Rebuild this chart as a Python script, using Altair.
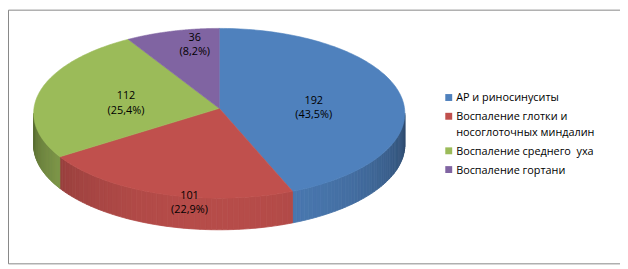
import altair as alt
import pandas as pd

categories = ["АР и риносинуситы", "Воспаление глотки и носоглоточных миндалин",
              "Воспаление среднего уха", "Воспаление гортани"]
legend_labels = ["АР и риносинуситы", "Воспаление глотки и\nносоглоточных миндалин",
                 "Воспаление среднего\u00a0 уха", "Воспаление гортани"]
values = [192, 101, 112, 36]
top_colors = ["#4F81BD", "#C0504D", "#9BBB59", "#8064A2"]

W, H = 620, 258
CX, CY, RX, RY, DEPTH, APEX_UP = 214, 105, 188, 86, 32, 5
N = 120      # arc resolution of the top face
M = 48       # shading strips per side wall
FONT = "Open Sans"
LEG_SQ_X, LEG_TX_X, LEG_Y0, LEG_ROW, LEG_LINE = 446.5, 454, 89, 19, 16

df = pd.DataFrame({"cat": categories, "legend": legend_labels,
                   "value": values, "idx": list(range(len(values)))})

rgb_list = "[" + ",".join(
    "[" + ",".join(str(int(c[i:i + 2], 16)) for i in (1, 3, 5)) + "]" for c in top_colors
) + "]"
cat_list = "[" + ",".join("'" + c + "'" for c in categories) + "]"

xs = alt.Scale(domain=[0, W], nice=False, zero=False)
ys = alt.Scale(domain=[0, H], nice=False, zero=False, reverse=True)

base = alt.Chart(df).transform_joinaggregate(
    total="sum(value)"
).transform_window(
    cum="sum(value)", sort=[alt.SortField("idx")], frame=[None, 0]
).transform_calculate(
    a0="2*PI*(datum.cum - datum.value)/datum.total",
    a1="2*PI*datum.cum/datum.total",
)

# front side walls, drawn as shaded strips
side = base.transform_calculate(
    s0="max(datum.a0, PI/2)", s1="min(datum.a1, 3*PI/2)"
).transform_filter("datum.s1 > datum.s0").transform_calculate(
    j=f"sequence(0, {M})"
).transform_flatten(["j"]).transform_calculate(
    t0=f"datum.s0 + (datum.s1 - datum.s0) * datum.j / {M}",
    t1=f"datum.s0 + (datum.s1 - datum.s0) * (datum.j + 1) / {M}",
    strip="datum.cat + '_' + datum.j",
).transform_calculate(
    deg="((datum.t0 + datum.t1) / 2) * 180 / PI"
).transform_calculate(
    shade="1 - (0.05 + (datum.deg < 180 ? 0.40 : 0.36) * pow((datum.deg - 180) / 90, 2))",
    rgbv=f"{rgb_list}[indexof({cat_list}, datum.cat)]",
).transform_calculate(
    col="'rgb(' + round(datum.rgbv[0] * datum.shade) + ',' + round(datum.rgbv[1] * datum.shade) + ',' + round(datum.rgbv[2] * datum.shade) + ')'",
    k="sequence(0, 4)",
).transform_flatten(["k"]).transform_calculate(
    ang="(datum.k == 0 || datum.k == 3) ? datum.t0 : datum.t1"
).transform_calculate(
    px=f"{CX} + {RX} * sin(datum.ang)",
    py=f"{CY} - {RY} * cos(datum.ang) + (datum.k >= 2 ? {DEPTH} : 0)",
).mark_line(interpolate="linear-closed", strokeWidth=0.8).encode(
    x=alt.X("px:Q", scale=xs, axis=None),
    y=alt.Y("py:Q", scale=ys, axis=None),
    order="k:Q",
    detail="strip:N",
    fill=alt.Fill("col:N", scale=None),
    stroke=alt.Stroke("col:N", scale=None),
)

# top face
top = base.transform_calculate(
    i=f"sequence(0, {N + 2})"
).transform_flatten(["i"]).transform_calculate(
    ang=f"datum.a0 + (datum.a1 - datum.a0) * (datum.i - 1) / {N}"
).transform_calculate(
    px=f"datum.i == 0 ? {CX} : {CX} + {RX} * sin(datum.ang)",
    py=f"datum.i == 0 ? {CY - APEX_UP} : {CY} - {RY} * cos(datum.ang)",
).mark_line(interpolate="linear-closed", strokeWidth=0.6).encode(
    x=alt.X("px:Q", scale=xs, axis=None),
    y=alt.Y("py:Q", scale=ys, axis=None),
    order="i:Q",
    detail="cat:N",
    fill=alt.Fill("cat:N", scale=alt.Scale(domain=categories, range=top_colors), legend=None),
    stroke=alt.Stroke("cat:N", scale=alt.Scale(domain=categories, range=top_colors), legend=None),
)

labels = base.transform_calculate(
    mid="(datum.a0 + datum.a1) / 2"
).transform_calculate(
    lx=f"{CX} + 0.52 * {RX} * sin(datum.mid)",
    ly=f"{CY} + 4 - 0.97 * {RY} * cos(datum.mid)",
    txt="datum.value + '\\n(' + replace(format(datum.value / datum.total, '.1%'), '.', ',') + ')'",
).mark_text(lineBreak="\n", font=FONT, fontSize=11, color="#000000",
            baseline="middle", align="center", lineHeight=15).encode(
    x=alt.X("lx:Q", scale=xs, axis=None),
    y=alt.Y("ly:Q", scale=ys, axis=None),
    text="txt:N",
)

leg_base = alt.Chart(df).transform_calculate(
    nlines="length(split(datum.legend, '\\n'))"
).transform_window(
    cumlines="sum(nlines)", sort=[alt.SortField("idx")], frame=[None, 0]
).transform_calculate(
    ly=f"{LEG_Y0} + datum.idx * {LEG_ROW} + (datum.cumlines - datum.nlines - datum.idx) * {LEG_LINE}"
)

leg_sq = leg_base.mark_square(size=49, opacity=1).encode(
    x=alt.value(LEG_SQ_X),
    y=alt.Y("ly:Q", scale=ys, axis=None),
    fill=alt.Fill("cat:N", scale=alt.Scale(domain=categories, range=top_colors), legend=None),
)
leg_tx = leg_base.mark_text(lineBreak="\n", font=FONT, fontSize=11, color="#000000",
                            align="left", baseline="alphabetic", dy=4, lineHeight=LEG_LINE).encode(
    x=alt.value(LEG_TX_X),
    y=alt.Y("ly:Q", scale=ys, axis=None),
    text="legend:N",
)

border = alt.Chart(df).transform_filter("datum.idx == 0").mark_rect(
    filled=False, stroke="#868686", strokeWidth=1
).encode(
    x=alt.value(0.5), x2=alt.value(W + 20), y=alt.value(0.5), y2=alt.value(H - 0.5)
)

chart = alt.layer(side, top, labels, leg_sq, leg_tx, border).resolve_scale(
    fill="independent", stroke="independent"
).properties(
    width=W, height=H, padding=0, autosize=alt.AutoSizeParams(type="none"),
    background="white"
).configure_view(stroke=None)

chart.save("out.html", embed_options={"renderer": "svg", "actions": False})
